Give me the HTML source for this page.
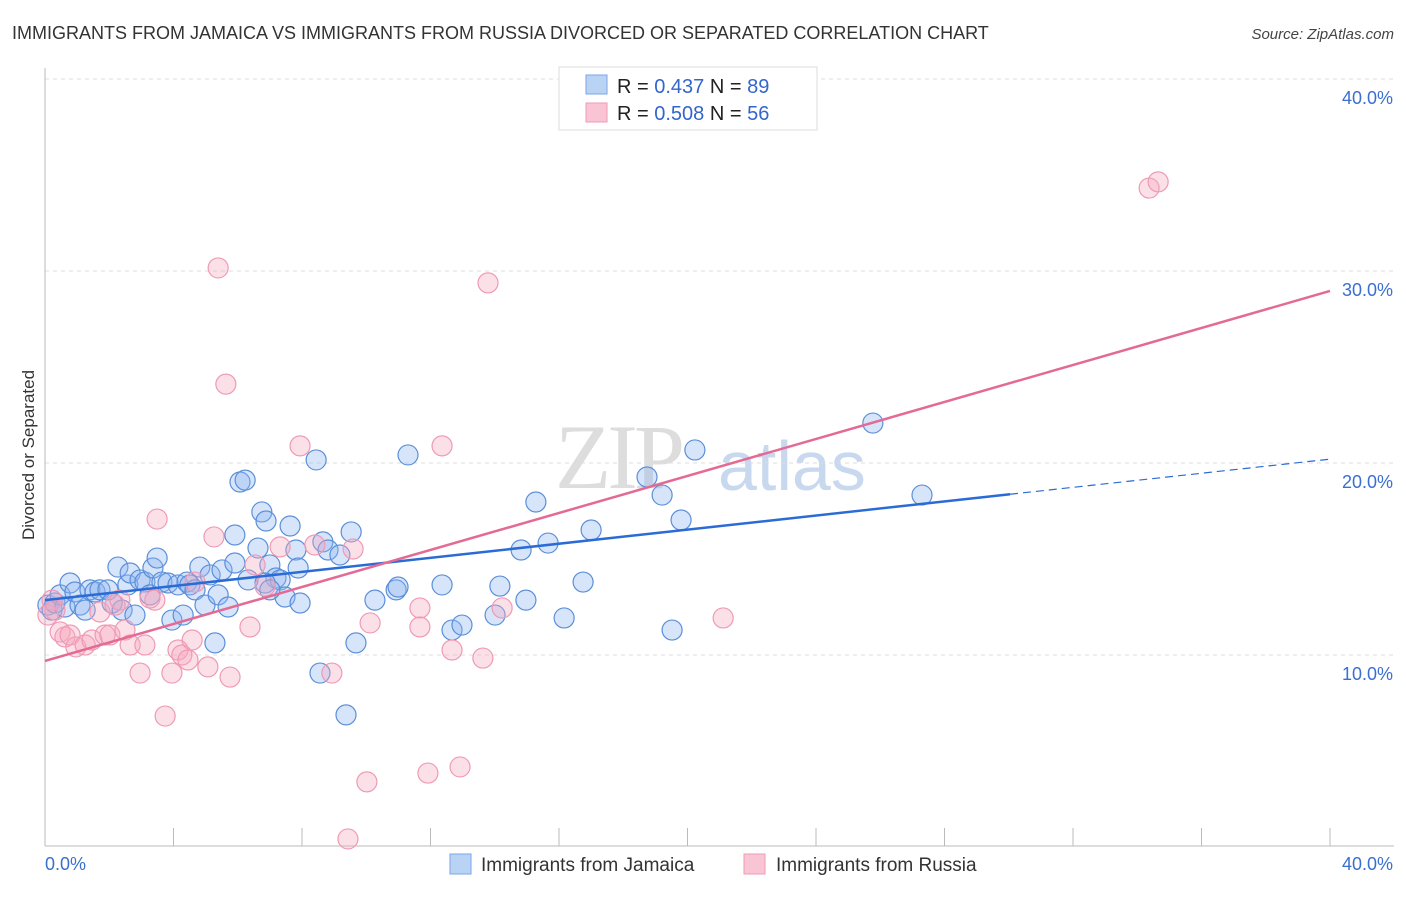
<!DOCTYPE html>
<html><head><meta charset="utf-8"><style>
body{margin:0;background:#fff;font-family:"Liberation Sans",sans-serif;}
</style></head><body>
<svg id="chart" width="1406" height="892" xmlns="http://www.w3.org/2000/svg" style="font-family:'Liberation Sans',sans-serif">
<text x="12" y="39" font-size="18" fill="#333">IMMIGRANTS FROM JAMAICA VS IMMIGRANTS FROM RUSSIA DIVORCED OR SEPARATED CORRELATION CHART</text>
<text x="1394" y="39" font-size="15" fill="#444" text-anchor="end" font-style="italic">Source: ZipAtlas.com</text>
<text x="555" y="488" font-size="92" fill="#ddd" font-family="Liberation Serif" letter-spacing="-4">ZIP</text>
<text x="718" y="490" font-size="70" fill="#c8d8ee">atlas</text>
<g id="grid"></g>
<g id="axes"></g>
<g id="points"></g>
<g id="lines"></g>
<text transform="translate(34,455) rotate(-90)" font-size="17" fill="#333" text-anchor="middle">Divorced or Separated</text>
<g>
<rect x="559" y="67" width="258" height="63" fill="#fff" stroke="#ddd"/>
<rect x="586" y="75" width="21" height="19" fill="#b9d3f5" stroke="#7aa6e6"/>
<rect x="586" y="103" width="21" height="19" fill="#f9c5d4" stroke="#ef9ab5"/>
<text x="617" y="93" font-size="20" fill="#222">R = <tspan fill="#3366cc">0.437</tspan>   N = <tspan fill="#3366cc">89</tspan></text>
<text x="617" y="120" font-size="20" fill="#222">R = <tspan fill="#3366cc">0.508</tspan>   N = <tspan fill="#3366cc">56</tspan></text>
</g>
<g>
<rect x="450" y="854" width="21" height="20" fill="#b9d3f5" stroke="#7aa6e6"/>
<text x="481" y="871" font-size="19" fill="#333">Immigrants from Jamaica</text>
<rect x="744" y="854" width="21" height="20" fill="#f9c5d4" stroke="#ef9ab5"/>
<text x="776" y="871" font-size="19" fill="#333">Immigrants from Russia</text>
</g>
</svg>
<script>
const yTicks=[10,20,30,40];
const yTickLabels=["10.0%","20.0%","30.0%","40.0%"];
const xTicks=[0,4,8,12,16,20,24,28,32,36,40];
const jamX=[0.09,0.22,0.31,0.47,0.62,0.78,0.93,1.09,1.25,1.40,1.56,1.71,1.96,2.09,2.27,2.40,2.58,2.65,2.80,2.96,3.11,3.27,3.36,3.49,3.64,3.83,3.95,4.14,4.30,4.42,4.51,4.67,4.82,4.98,5.14,5.39,5.51,5.70,5.91,5.91,6.07,6.23,6.32,6.63,6.75,6.88,7.00,7.19,7.32,7.47,7.63,7.81,7.88,7.94,8.44,8.56,8.65,8.81,9.18,9.37,9.53,9.68,10.27,10.93,10.99,11.30,12.36,12.67,12.98,14.01,14.16,14.97,14.82,15.28,15.66,16.16,16.75,17.00,18.74,19.21,19.52,19.80,20.23,25.77,27.30,5.29,6.85,7.00];
const jamY=[12.6,12.34,12.71,13.13,12.5,13.75,13.28,12.6,12.34,13.39,13.28,13.39,13.39,12.71,14.58,12.34,13.65,14.27,12.08,13.91,13.8,13.13,14.53,15.05,13.8,13.75,11.82,13.65,12.08,13.8,13.65,13.39,14.58,12.6,14.17,13.13,14.43,12.5,16.25,14.79,19.01,19.11,13.91,15.57,17.45,16.98,14.69,14.01,13.91,13.02,16.72,15.47,14.53,12.71,20.16,9.06,15.89,15.47,15.21,6.88,16.41,10.63,12.86,13.39,13.54,20.42,13.65,11.3,11.56,12.08,13.59,12.86,15.47,17.97,15.83,11.93,13.8,16.51,19.27,18.33,11.3,17.03,20.68,22.08,18.33,10.63,13.75,13.39];
const rusX=[0.09,0.22,0.31,0.47,0.62,0.78,0.96,1.25,1.46,1.71,1.87,2.02,2.18,2.33,2.49,2.65,2.96,3.11,3.27,3.42,3.49,3.74,3.95,4.14,4.26,4.45,4.58,4.67,5.07,5.26,5.39,5.63,5.76,6.38,6.54,6.85,7.32,7.94,8.40,8.93,9.43,9.59,10.02,10.12,11.67,11.67,11.92,12.36,12.67,12.92,13.63,13.79,14.23,21.11,34.37,34.65];
const rusY=[12.08,12.86,12.34,11.2,10.94,11.04,10.42,10.52,10.78,12.24,11.04,11.04,12.6,12.86,11.3,10.52,9.06,10.52,12.97,12.86,17.08,6.82,9.06,10.26,10.0,9.74,10.78,13.8,9.38,16.15,30.16,24.11,8.85,11.46,14.69,13.59,15.63,20.89,15.73,9.06,0.42,15.52,3.39,11.67,12.45,11.46,3.85,20.89,10.26,4.17,9.84,29.38,12.45,11.93,34.32,34.64];
const jamLine=[12.86,20.2], jamSolidEnd=30.04;
const rusLine=[9.69,28.96];
const NS="http://www.w3.org/2000/svg";
const X=v=>45+v*(1285/40), Y=v=>847-v*19.2;
function mk(tag,attrs,parent){const e=document.createElementNS(NS,tag);for(const k in attrs)e.setAttribute(k,attrs[k]);document.getElementById(parent).appendChild(e);return e;}
yTicks.forEach((t,i)=>{
 const l=mk('line',{x1:45,x2:1394,y1:Y(t),y2:Y(t),stroke:'#ddd','stroke-dasharray':'4,4'},'grid');
 
 
 const tx=mk('text',{x:1393,y:Y(t)+25,'font-size':18,fill:'#3a6fd0','text-anchor':'end'},'grid');
 tx.textContent=yTickLabels[i];
 
 
});
const ax=mk('line',{x1:45,x2:45,y1:68,y2:846,stroke:'#bbb'},'axes');


const bx=mk('line',{x1:45,x2:1394,y1:846,y2:846,stroke:'#bbb'},'axes');


xTicks.forEach(t=>{
 const l=mk('line',{x1:X(t),x2:X(t),y1:828,y2:846,stroke:'#bbb'},'axes');
 
 
});
const x0=mk('text',{x:45,y:870,'font-size':18,fill:'#3a6fd0'},'axes');x0.textContent='0.0%';


const x1=mk('text',{x:1393,y:870,'font-size':18,fill:'#3a6fd0','text-anchor':'end'},'axes');x1.textContent='40.0%';


jamX.forEach((v,i)=>{
 const c=mk('circle',{cx:X(v),cy:Y(jamY[i]),r:10,fill:'rgba(140,180,240,0.35)',stroke:'#5b8fd9','stroke-width':1.2},'points');
 
 
});
rusX.forEach((v,i)=>{
 const c=mk('circle',{cx:X(v),cy:Y(rusY[i]),r:10,fill:'rgba(245,165,190,0.35)',stroke:'#ef9ab5','stroke-width':1.2},'points');
 
 
});
const jy=x=>jamLine[0]+(jamLine[1]-jamLine[0])*x/40;
const l1=mk('line',{x1:X(0),y1:Y(jy(0)),x2:X(jamSolidEnd),y2:Y(jy(jamSolidEnd)),stroke:'#2a6bd6','stroke-width':2.5},'lines');


const l2=mk('line',{x1:X(jamSolidEnd),y1:Y(jy(jamSolidEnd)),x2:X(40),y2:Y(jy(40)),stroke:'#2a6bd6','stroke-width':1.2,'stroke-dasharray':'8,5'},'lines');


const l3=mk('line',{x1:X(0),y1:Y(rusLine[0]),x2:X(40),y2:Y(rusLine[1]),stroke:'#e46a96','stroke-width':2.5},'lines');


</script>
</body></html>
